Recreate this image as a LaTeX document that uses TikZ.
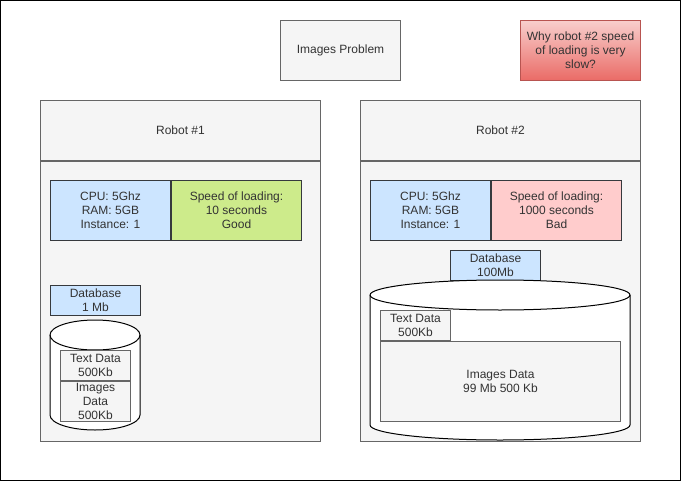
\documentclass[tikz,border=0pt]{standalone}
\usepackage{fontspec}
\setmainfont{Liberation Sans}
\usetikzlibrary{positioning}

\definecolor{grayfill}{HTML}{F5F5F5}
\definecolor{grayline}{HTML}{666666}
\definecolor{graytext}{HTML}{333333}
\definecolor{darkline}{HTML}{36393D}
\definecolor{bluefill}{HTML}{CCE5FF}
\definecolor{greenfill}{HTML}{CDEB8B}
\definecolor{pinkfill}{HTML}{FFCCCC}
\definecolor{redtop}{HTML}{F8CECC}
\definecolor{redbottom}{HTML}{EA6B66}
\definecolor{redline}{HTML}{B85450}

\begin{document}
\begin{tikzpicture}[
			x=0.75pt, y=-0.75pt,
			font=\fontsize{9}{10.5}\selectfont,
			box/.style={rectangle, draw=grayline, fill=grayfill, text=graytext, align=center, inner sep=0pt, line width=0.75pt},
			panel/.style={box, anchor=north west, minimum width=210pt},
			info/.style={rectangle, draw=darkline, text=graytext, align=center, inner sep=0pt, line width=0.75pt, minimum width=90pt, minimum height=45pt, anchor=north west},
			dbname/.style={info, fill=bluefill, minimum width=67.5pt, minimum height=22.5pt},
			question/.style={rectangle, draw=redline, top color=redtop, bottom color=redbottom, text=graytext, align=center, inner sep=0pt, line width=0.75pt, minimum width=90pt, minimum height=45pt, anchor=north west},
			tank/.style={draw=black, fill=white, line width=0.75pt}
		]
		\useasboundingbox (0,0) rectangle (681,481);
		\draw[line width=0.75pt] (0.5,0.5) rectangle (680,480);

		% Title and question
		\node[box, minimum width=90pt, minimum height=45pt, anchor=north west] (title) at (280,20) {Images Problem};
		\node[question] (why) at (520,20) {Why robot \#2 speed\\of loading is very\\slow?};

		% Robot #1
		\node[panel, minimum height=45pt] (head1) at (40,100) {Robot \#1};
		\node[panel, minimum height=210pt, below=0pt of head1] (body1) {};
		\node[info, fill=bluefill] (cpu1) at (50,180) {CPU: 5Ghz\\RAM: 5GB\\Instance: 1};
		\node[info, fill=greenfill, minimum width=97.5pt, right=0pt of cpu1] (speed1) {Speed of loading:\\10 seconds\\Good};
		\node[dbname] (dbname1) at (50,285) {Database\\1 Mb};

		% Robot #1 database
		\draw[tank] (50,335) -- (50,415) arc[start angle=180, end angle=360, x radius=33.75pt, y radius=11.25pt]
			-- (140,335) arc[start angle=0, end angle=180, x radius=33.75pt, y radius=11.25pt] -- cycle;
		\draw[tank, fill=none] (50,335) arc[start angle=180, end angle=360, x radius=33.75pt, y radius=11.25pt];
		\node[box, minimum width=52.5pt, minimum height=22.5pt, anchor=north west] (text1) at (60,350) {Text Data\\500Kb};
		\node[box, minimum width=52.5pt, minimum height=30pt, below=0pt of text1] (img1) {Images\\Data\\500Kb};

		% Robot #2
		\node[panel, minimum height=45pt] (head2) at (360,100) {Robot \#2};
		\node[panel, minimum height=210pt, below=0pt of head2] (body2) {};
		\node[info, fill=bluefill] (cpu2) at (370,180) {CPU: 5Ghz\\RAM: 5GB\\Instance: 1};
		\node[info, fill=pinkfill, minimum width=97.5pt, right=0pt of cpu2] (speed2) {Speed of loading:\\1000 seconds\\Bad};
		\node[dbname] (dbname2) at (450,250) {Database\\100Mb};

		% Robot #2 database
		\draw[tank] (370,295) -- (370,425) arc[start angle=180, end angle=360, x radius=97.5pt, y radius=11.25pt]
			-- (630,295) arc[start angle=0, end angle=180, x radius=97.5pt, y radius=11.25pt] -- cycle;
		\draw[tank, fill=none] (370,295) arc[start angle=180, end angle=360, x radius=97.5pt, y radius=11.25pt];
		\node[box, minimum width=52.5pt, minimum height=22.5pt, anchor=north west] (text2) at (380,310) {Text Data\\500Kb};
		\node[box, minimum width=180pt, minimum height=60pt, below=0pt of text2.south west, anchor=north west] (img2) {Images Data\\99 Mb 500 Kb};

	\end{tikzpicture}
\end{document}
